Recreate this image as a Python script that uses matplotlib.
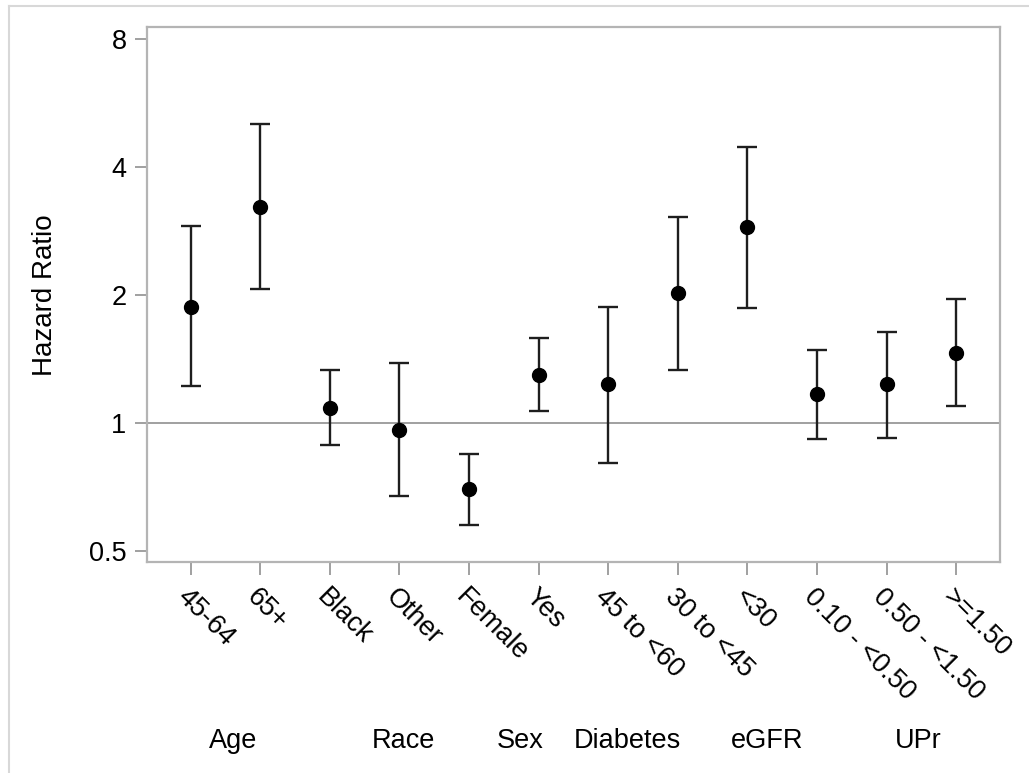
import matplotlib.pyplot as plt
import matplotlib.transforms as mtransforms
from matplotlib.lines import Line2D
import numpy as np

plt.rcParams['font.family'] = ['Liberation Sans', 'DejaVu Sans']

# --------------------------
# Data
# --------------------------
levels = ["45-64", "65+", "Black", "Other", "Female", "Yes",
          "45 to <60", "30 to <45", "<30",
          "0.10 - <0.50", "0.50 - <1.50", ">=1.50"]
hr = [1.88, 3.22, 1.085, 0.964, 0.698, 1.30, 1.233, 2.02, 2.89, 1.168, 1.233, 1.466]
ci_low = [1.22, 2.07, 0.888, 0.675, 0.575, 1.067, 0.807, 1.337, 1.871, 0.918, 0.923, 1.098]
ci_high = [2.91, 5.05, 1.332, 1.384, 0.847, 1.585, 1.881, 3.05, 4.47, 1.49, 1.64, 1.957]

groups = ["Age", "Race", "Sex", "Diabetes", "eGFR", "UPr"]
group_pos = [0.61, 3.06, 4.74, 6.27, 8.28, 10.45]

yticks = [0.5, 1, 2, 4, 8]

# --------------------------
# Figure
# --------------------------
fig = plt.figure(figsize=(10.29, 7.73), dpi=100)
ax = fig.add_axes([0.1433, 0.273, 0.8285, 0.6915])

x = np.arange(len(levels))
hr = np.array(hr)
lo = hr - np.array(ci_low)
hi = np.array(ci_high) - hr

ax.axhline(1, color="#a0a0a0", lw=1.4, zorder=1)
ax.errorbar(x, hr, yerr=[lo, hi], fmt="o", color="black", ecolor="#1e1e1e",
            elinewidth=1.7, capsize=7.5, capthick=1.7, markersize=10, zorder=3)

ax.set_yscale("log", base=2)
ax.set_ylim(0.471, 8.54)
ax.set_yticks(yticks)
ax.set_yticklabels([str(t) for t in yticks])
ax.minorticks_off()
ax.set_xlim(-0.62, len(levels) - 1 + 0.63)
ax.set_xticks(x)
ax.set_xticklabels(levels, rotation=-45, ha="left", va="top",
                   rotation_mode="anchor")
shift = mtransforms.ScaledTranslation(-7 / 100, 0, fig.dpi_scale_trans)
for lab in ax.get_xticklabels():
    lab.set_transform(lab.get_transform() + shift)

for s in ax.spines.values():
    s.set_color("#b4b4b4")
    s.set_linewidth(1.6)
ax.tick_params(axis="both", colors="#a0a0a0", length=9, width=1.4,
               labelsize=19.5, labelcolor="black")
ax.tick_params(axis="x", pad=7)
ax.tick_params(axis="y", pad=6)

ax.set_ylabel("Hazard Ratio", fontsize=20, labelpad=22)

trans = mtransforms.blended_transform_factory(ax.transData, fig.transFigure)
for g, p in zip(groups, group_pos):
    ax.text(p, 1 - 741 / 773, g, transform=trans, ha="center", va="center",
            fontsize=19.5)

# outer frame (top and left edges of the exported image)
fig.add_artist(Line2D([9 / 1029, 1], [1 - 6 / 773, 1 - 6 / 773],
                      transform=fig.transFigure, color="#d8d8d8", lw=1.5))
fig.add_artist(Line2D([9 / 1029, 9 / 1029], [0, 1 - 6 / 773],
                      transform=fig.transFigure, color="#d8d8d8", lw=1.5))

fig.savefig("out.png", dpi=100)
